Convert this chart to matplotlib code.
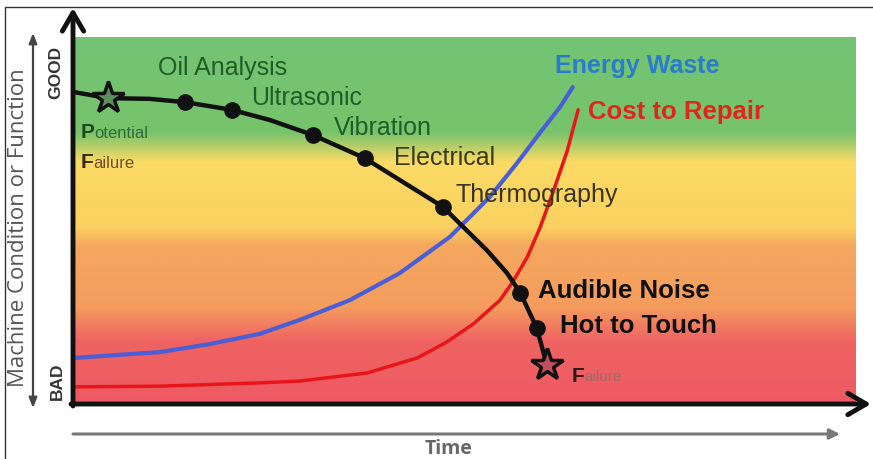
import numpy as np
import matplotlib
matplotlib.use("Agg")
import matplotlib.pyplot as plt
from matplotlib.colors import LinearSegmentedColormap

plt.rcParams['font.family'] = ['Liberation Sans', 'DejaVu Sans']

# Machine condition curve (time %, condition %)
cond_t = [0, 4.5, 9.8, 14.3, 20.3, 25.2, 30.7, 37.3, 41.8, 47.3, 49.9, 52.9, 55.5, 57.2, 59.3, 60.6]
cond_v = [85.0, 83.3, 83.1, 82.2, 80.1, 77.3, 73.2, 66.9, 60.9, 53.6, 48.1, 41.8, 35.5, 30.1, 20.5, 10.4]

# detection methods on the curve
tech_names = ["Oil Analysis", "Ultrasonic", "Vibration", "Electrical", "Thermography",
              "Audible Noise", "Hot to Touch"]
tech_t = [14.3, 20.3, 30.7, 37.3, 47.3, 57.2, 59.3]
tech_v = [82.2, 80.1, 73.2, 66.9, 53.6, 30.1, 20.5]

# potential failure / failure stars
star_t = [4.5, 60.6]
star_v = [83.3, 10.4]

# energy waste (blue) and cost to repair (red)
energy_t = [0, 11.1, 17.5, 23.9, 29.0, 35.4, 41.8, 48.2, 53.3, 56.8, 59.7, 62.3, 63.9]
energy_v = [12.3, 13.9, 16.1, 18.9, 22.7, 28.1, 35.5, 45.4, 56.3, 65.6, 73.8, 80.9, 86.3]
cost_t = [0, 11.1, 23.9, 29.0, 37.6, 44.0, 47.6, 51.2, 54.6, 56.3, 58.1, 59.7, 61.4, 63.2, 64.6]
cost_v = [4.4, 4.6, 5.5, 6.0, 8.2, 12.3, 16.4, 21.6, 28.1, 33.3, 39.9, 47.8, 57.7, 68.9, 80.1]

W, H = 873, 459
fig = plt.figure(figsize=(W / 100, H / 100), dpi=100)

# plot area (pixels: x 73..855, y 37..403)
ax = fig.add_axes([73 / W, (H - 403) / H, 782 / W, 366 / H], zorder=1)
ax.set_xlim(0, 100)
ax.set_ylim(0, 100)
ax.axis('off')

bg = LinearSegmentedColormap.from_list('bg', [
    (0.00, '#ee5a64'), (0.17, '#ef6462'), (0.26, '#f49c5e'), (0.43, '#f5a85e'),
    (0.48, '#fad160'), (0.66, '#fcda66'), (0.74, '#78c36c'), (1.00, '#72c474')])
grad = np.linspace(0, 1, 400).reshape(-1, 1)
ax.imshow(grad, cmap=bg, origin='lower', extent=[0, 100, 0, 100], aspect='auto')

ax.plot(energy_t, energy_v, color='#4a5fd6', lw=3, solid_capstyle='round',
        solid_joinstyle='round')
ax.plot(cost_t, cost_v, color='#e8161a', lw=2.5, solid_capstyle='round',
        solid_joinstyle='round')
ax.plot(cond_t, cond_v, color='#111111', lw=3.2, solid_joinstyle='round')
ax.plot(tech_t, tech_v, 'o', color='#111111', ms=11)
ax.plot(star_t[:1], star_v[:1], '*', ms=24, mfc='#5c8f5e', mec='#111111', mew=2.5)
ax.plot(star_t[1:], star_v[1:], '*', ms=24, mfc='#c0505e', mec='#111111', mew=2.5)

# overlay in pixel coordinates for decoration and labels
ov = fig.add_axes([0, 0, 1, 1], zorder=2)
ov.set_xlim(0, W)
ov.set_ylim(H, 0)
ov.axis('off')
ov.patch.set_alpha(0)

# frame
ov.plot([5, 5, W], [H, 7, 7], color='#333333', lw=1)

# main axes arrows
ov.annotate('', xy=(73, 8), xytext=(73, 406),
            arrowprops=dict(arrowstyle='->,head_length=0.6,head_width=0.35', lw=3.5,
                            color='#111111', mutation_scale=22, shrinkA=0, shrinkB=0))
ov.annotate('', xy=(871, 404), xytext=(71, 404),
            arrowprops=dict(arrowstyle='->,head_length=0.6,head_width=0.35', lw=3.5,
                            color='#111111', mutation_scale=22, shrinkA=0, shrinkB=0))

# side arrow
ov.annotate('', xy=(33, 33), xytext=(33, 408),
            arrowprops=dict(arrowstyle='<|-|>,head_length=0.5,head_width=0.2', lw=1.6,
                            color='#444444', mutation_scale=12, shrinkA=0, shrinkB=0))
ov.text(19, 228, 'Machine Condition or Function', rotation=90, ha='center', va='center',
        fontsize=16, color='#555555', family=['Open Sans', 'DejaVu Sans'])
ov.text(56, 72, 'GOOD', rotation=90, ha='center', va='center', fontsize=12.5,
        fontweight='bold', color='#333333')
ov.text(57, 381, 'BAD', rotation=90, ha='center', va='center', fontsize=12.5,
        fontweight='bold', color='#333333')

# time arrow
ov.annotate('', xy=(840, 434), xytext=(73, 434),
            arrowprops=dict(arrowstyle='-|>,head_length=0.5,head_width=0.25', lw=2.2,
                            color='#777777', mutation_scale=12, shrinkA=0, shrinkB=0))
ov.text(449, 449, 'Time', ha='center', va='center', fontsize=14, fontweight='bold',
        color='#666666', family=['Open Sans', 'DejaVu Sans'])

# technique labels
label_xy = [(158, 68), (251, 98), (334, 128), (394, 158), (455, 195), (538, 291), (560, 326)]
label_col = ['#1f5e28', '#1f5e28', '#1f5e28', '#3a3a1c', '#3a3520', '#111111', '#111111']
label_w = ['normal'] * 5 + ['bold'] * 2
label_fs = [18] * 5 + [18.5] * 2
for name, (x, y), c, w, fs in zip(tech_names, label_xy, label_col, label_w, label_fs):
    ov.text(x, y, name, ha='left', va='center', fontsize=fs, color=c, fontweight=w)

ov.text(555, 66, 'Energy Waste', ha='left', va='center', fontsize=18, fontweight='bold',
        color='#2a7ccc')
ov.text(588, 112, 'Cost to Repair', ha='left', va='center', fontsize=18.5, fontweight='bold',
        color='#e0251e')

# potential failure / failure labels
ov.text(81, 132, 'P', ha='left', va='center', fontsize=15, fontweight='bold', color='#1d4a1d')
ov.text(94, 133, 'otential', ha='left', va='center', fontsize=12, color='#2e6a38')
ov.text(81, 163, 'F', ha='left', va='center', fontsize=15, fontweight='bold', color='#3a2a10')
ov.text(93, 164, 'ailure', ha='left', va='center', fontsize=12, color='#6e5030')
ov.text(572, 376, 'F', ha='left', va='center', fontsize=15, fontweight='bold', color='#2a1a1a')
ov.text(584, 377, 'ailure', ha='left', va='center', fontsize=11, color='#9a6a6a')

fig.savefig('out.png', dpi=100)
